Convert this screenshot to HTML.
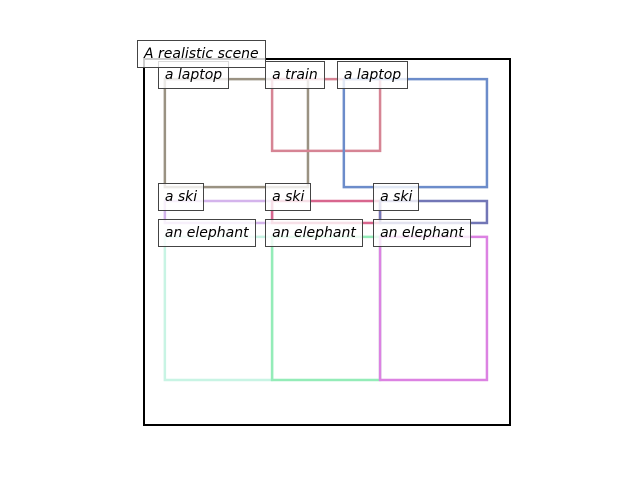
<!DOCTYPE html>
<html><head><meta charset="utf-8"><style>
body{margin:0;width:640px;height:480px;background:#fff;overflow:hidden;position:relative;font-family:"DejaVu Sans",sans-serif}
.lbl{position:absolute;height:28px;line-height:27px;padding:0 6px;border:1px solid #444;background:rgba(255,255,255,0.8);font-style:italic;font-size:14px;color:#000;white-space:nowrap;box-sizing:border-box}
</style></head><body>
<svg id="chart" width="640" height="480" style="position:absolute;left:0;top:0">
<rect x="144" y="59" width="366" height="366" fill="none" stroke="#000" stroke-width="2"/>
<g id="boxes"></g>
</svg>
<div id="labels"></div>
<div class="lbl" style="left:137px;top:40px">A realistic scene</div>
<script>
const labels = ["a laptop","a train","a laptop","a ski","a ski","a ski","an elephant","an elephant","an elephant"];
const x0s = [0.057,0.350,0.546,0.057,0.350,0.645,0.057,0.350,0.645];
const x1s = [0.448,0.645,0.937,0.350,0.645,0.937,0.350,0.645,0.937];
const y0s = [0.055,0.055,0.055,0.388,0.388,0.388,0.486,0.486,0.486];
const y1s = [0.350,0.251,0.350,0.448,0.448,0.448,0.877,0.877,0.877];
const colors = ["#9a9282","#d68494","#6c8cca","#d4b4ec","#d8668e","#7276b6","#c8f4e4","#94ecb8","#dc82e2"];
const X = v => 144 + v*366, Y = v => 59 + v*366;
const g = document.getElementById('boxes'), L = document.getElementById('labels');
const ns = "http://www.w3.org/2000/svg";
for (let i=0;i<labels.length;i++){
  const r = document.createElementNS(ns,'rect');
  r.setAttribute('x',X(x0s[i]));r.setAttribute('y',Y(y0s[i]));
  r.setAttribute('width',X(x1s[i])-X(x0s[i]));r.setAttribute('height',Y(y1s[i])-Y(y0s[i]));
  r.setAttribute('fill','none');r.setAttribute('stroke',colors[i]);r.setAttribute('stroke-width','2.5');
  
  
  g.appendChild(r);
}
for (let i=0;i<labels.length;i++){
  const d = document.createElement('div');
  d.className='lbl';d.textContent=labels[i];
  d.style.left=(X(x0s[i])-7)+'px';d.style.top=(Y(y0s[i])-18)+'px';
  
  
  L.appendChild(d);
}
</script>
</body></html>
